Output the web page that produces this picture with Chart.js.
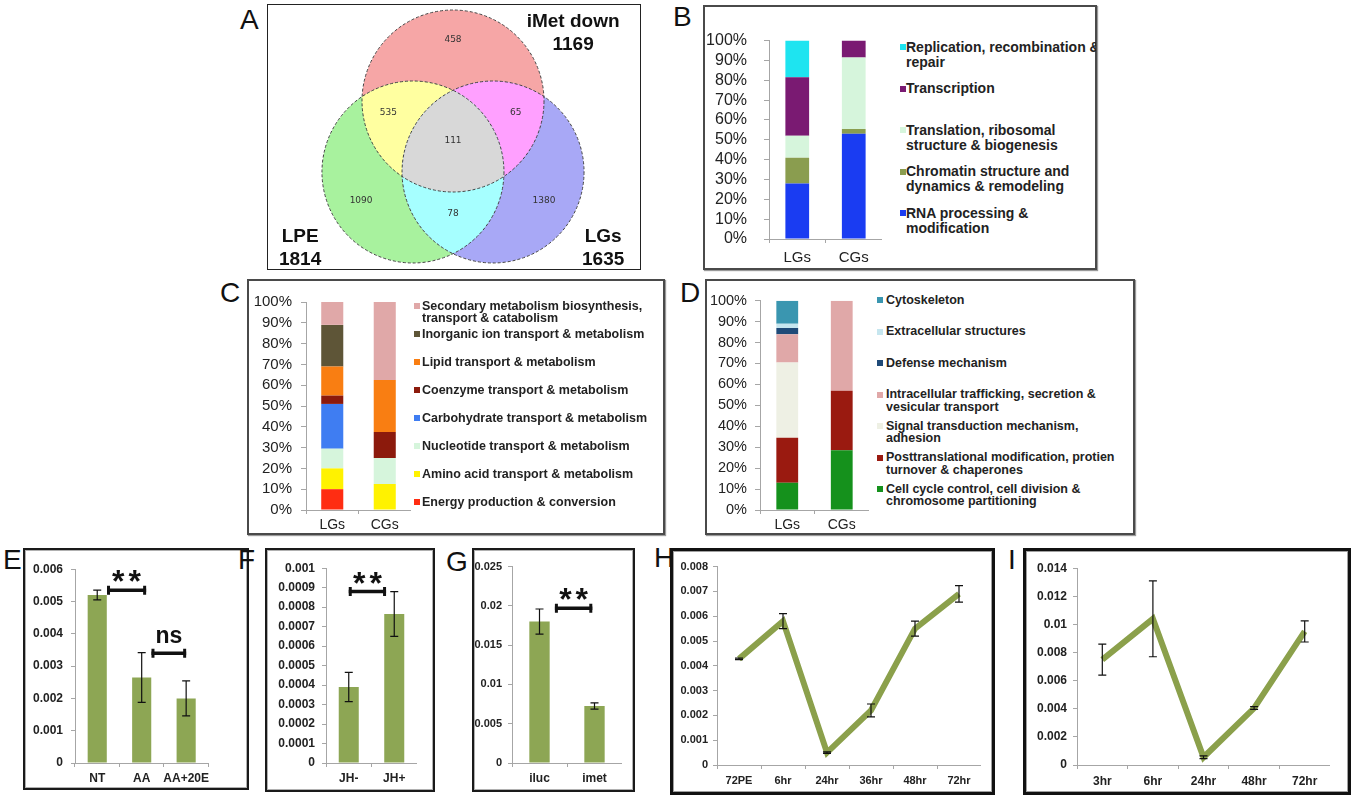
<!DOCTYPE html>
<html><head><meta charset="utf-8">
<script src="https://cdn.jsdelivr.net/npm/chart.js@4.4.0/dist/chart.umd.min.js"></script>
<style>
html,body{margin:0;padding:0;background:#fff}
body{width:1353px;height:800px;position:relative;overflow:hidden;font-family:Arial,"Liberation Sans",sans-serif}
.box{position:absolute;box-sizing:border-box}
.lbl{position:absolute;font:28px "Liberation Sans",Arial,sans-serif;line-height:1;color:#111}
canvas{position:absolute}
.leg{position:absolute;overflow:hidden}
.leg div{position:absolute;white-space:pre;font-weight:bold;color:#222}
.leg i{position:absolute;width:6px;height:6px}
</style></head>
<body>
<script>
/* === Figure panels A–I === */

// ── Data ──
const vennSets = ['iMet down', 'LPE', 'LGs'];
const vennTotals = [1169, 1814, 1635];
// iMet only, iMet∩LPE, iMet∩LGs, all three, LPE only, LGs only, LPE∩LGs
const vennCounts = [458, 535, 65, 111, 1090, 1380, 78];

const groupCats = ['LGs', 'CGs'];
const pctTicks = ['0%', '10%', '20%', '30%', '40%', '50%', '60%', '70%', '80%', '90%', '100%'];

// stacks listed bottom → top
const bNames = ['RNA processing &\nmodification', 'Chromatin structure and\ndynamics & remodeling',
    'Translation, ribosomal\nstructure & biogenesis', 'Transcription', 'Replication, recombination &\nrepair'];
const bLGs = [28, 13, 11, 29.5, 18.5];
const bCGs = [53, 2.5, 36, 8.5, 0];

const cNames = ['Energy production & conversion', 'Amino acid transport & metabolism', 'Nucleotide transport & metabolism',
    'Carbohydrate transport & metabolism', 'Coenzyme transport & metabolism', 'Lipid transport & metabolism',
    'Inorganic ion transport & metabolism', 'Secondary metabolism biosynthesis,\ntransport & catabolism'];
const cLGs = [10, 10, 9.5, 21.5, 4, 14, 20, 11];
const cCGs = [0, 12.5, 12.5, 0, 12.5, 25, 0, 37.5];

const dNames = ['Cell cycle control, cell division &\nchromosome partitioning', 'Posttranslational modification, protien\nturnover & chaperones',
    'Signal transduction mechanism,\nadhesion', 'Intracellular trafficking, secretion &\nvesicular transport',
    'Defense mechanism', 'Extracellular structures', 'Cytoskeleton'];
const dLGs = [13, 21.5, 36, 13.5, 3, 2, 11];
const dCGs = [28.5, 28.5, 0, 43, 0, 0, 0];

const eCats = ['NT', 'AA', 'AA+20E'];
const eVals = [0.0052, 0.00265, 0.002];
const eErr = [0.00015, 0.00077, 0.00054];
const eTicks = ['0', '0.001', '0.002', '0.003', '0.004', '0.005', '0.006'];
const eSig = [{ from: 0.22, to: 1.1, level: 0.00535, text: '**' }, { from: 1.22, to: 2.0, level: 0.0034, text: 'ns' }];

const fCats = ['JH-', 'JH+'];
const fVals = [0.00039, 0.000765];
const fErr = [0.000075, 0.000115];
const fTicks = ['0', '0.0001', '0.0002', '0.0003', '0.0004', '0.0005', '0.0006', '0.0007', '0.0008', '0.0009', '0.001'];
const fSig = [{ from: 0, to: 0.82, level: 0.00088, text: '**' }];

const gCats = ['iluc', 'imet'];
const gVals = [0.018, 0.00725];
const gErr = [0.0016, 0.0004];
const gTicks = ['0', '0.005', '0.01', '0.015', '0.02', '0.025'];
const gSig = [{ from: 0.28, to: 0.96, level: 0.0197, text: '**' }];

const hCats = ['72PE', '6hr', '24hr', '36hr', '48hr', '72hr'];
const hVals = [0.00428, 0.0058, 0.0005, 0.0022, 0.0055, 0.0069];
const hErr = [0.00003, 0.0003, 0.00003, 0.00026, 0.0003, 0.00033];
const hTicks = ['0', '0.001', '0.002', '0.003', '0.004', '0.005', '0.006', '0.007', '0.008'];

const iCats = ['3hr', '6hr', '24hr', '48hr', '72hr'];
const iVals = [0.0075, 0.0104, 0.00055, 0.00405, 0.0095];
const iErr = [0.0011, 0.0027, 0.0001, 0.0001, 0.00075];
const iTicks = ['0', '0.002', '0.004', '0.006', '0.008', '0.01', '0.012', '0.014'];

// ── Styles ──
const AXIS = '#a6a6a6';
const GREEN_BAR = '#8da654';
const GREEN_LINE = '#8ba04b';
const bColors = ['#1a3cf2', '#8a9d4f', '#d6f5dc', '#7a1a72', '#1ee4f0'];
const cColors = ['#ff2d12', '#fff200', '#d6f5dc', '#3f7df2', '#8c1a0c', '#f97e12', '#5e5537', '#e0a8a8'];
const dColors = ['#15911c', '#9a1a10', '#eef0e4', '#e0a8a8', '#1f4a78', '#c6e6ef', '#3a96b0'];
const vennFills = ['#f6a6a6', '#a8f29e', '#a8a8f6', '#ffffa0', '#ffa0ff', '#a6ffff', '#d8d8d8'];
const VENN = { cx: [0, -0.44, 0.44], cy: [0.78, 0, 0], r: 1,
    countPos: [[0, 1.45], [-0.71, 0.65], [0.69, 0.65], [0, 0.34], [-1.01, -0.31], [1.0, -0.31], [0, -0.46]],
    titlePos: [[1.32, 1.65], [-1.68, -0.71], [1.65, -0.71]] };

Chart.defaults.animation = false;
Chart.defaults.font.family = 'Arial, "Liberation Sans", sans-serif';
Chart.defaults.plugins.legend.display = false;
Chart.defaults.plugins.tooltip.enabled = false;

// ── Plugins ──
const errBars = {
    id: 'errbars',
    afterDatasetsDraw(chart, args, o) {
        if (!o.err) return;
        const { ctx } = chart, y = chart.scales.y;
        const meta = chart.getDatasetMeta(0), vals = chart.data.datasets[0].data;
        ctx.save(); ctx.strokeStyle = '#111'; ctx.lineWidth = 1.2;
        o.err.forEach((e, i) => {
            const px = meta.data[i].x, t = y.getPixelForValue(vals[i] + e), b = y.getPixelForValue(vals[i] - e);
            ctx.beginPath();
            ctx.moveTo(px, t); ctx.lineTo(px, b);
            ctx.moveTo(px - o.cap, t); ctx.lineTo(px + o.cap, t);
            ctx.moveTo(px - o.cap, b); ctx.lineTo(px + o.cap, b);
            ctx.stroke();
        });
        ctx.restore();
    }
};

const sigMarks = {
    id: 'sig',
    afterDraw(chart, args, o) {
        if (!o.marks) return;
        const { ctx, scales: { x, y } } = chart;
        ctx.save();
        for (const m of o.marks) {
            const x1 = x.getPixelForValue(m.from), x2 = x.getPixelForValue(m.to), py = y.getPixelForValue(m.level);
            ctx.strokeStyle = '#111'; ctx.lineWidth = 3.5; ctx.lineCap = 'butt';
            ctx.beginPath(); ctx.moveTo(x1, py); ctx.lineTo(x2, py); ctx.stroke();
            ctx.lineWidth = 3;
            ctx.beginPath(); ctx.moveTo(x1 + 1.5, py - 4.5); ctx.lineTo(x1 + 1.5, py + 4.5);
            ctx.moveTo(x2 - 1.5, py - 4.5); ctx.lineTo(x2 - 1.5, py + 4.5); ctx.stroke();
            ctx.fillStyle = '#111'; ctx.textAlign = 'center'; ctx.textBaseline = 'alphabetic';
            if (m.text === 'ns') { ctx.font = 'bold 23px Arial, "Liberation Sans"'; ctx.fillText(m.text, (x1 + x2) / 2, py - 10); }
            else { ctx.font = 'bold 32px Arial, "Liberation Sans"'; ctx.letterSpacing = '4px'; ctx.fillText(m.text, (x1 + x2) / 2 + 2, py + 2); ctx.letterSpacing = '0px'; }
        }
        ctx.restore();
    }
};

const venn = {
    id: 'venn',
    afterDatasetsDraw(chart, args, o) {
        if (!o.fills) return;
        const { ctx, scales: { x, y } } = chart;
        const pts = chart.getDatasetMeta(0).data;
        const r = x.getPixelForValue(o.radius) - x.getPixelForValue(0);
        const circ = i => { ctx.beginPath(); ctx.arc(pts[i].x, pts[i].y, r, 0, Math.PI * 2); };
        const overlap = (a, b, c) => { ctx.save(); circ(a); ctx.clip(); circ(b); ctx.fillStyle = c; ctx.fill(); ctx.restore(); };
        ctx.save();
        [0, 1, 2].forEach(i => { circ(i); ctx.fillStyle = o.fills[i]; ctx.fill(); });
        overlap(0, 1, o.fills[3]); overlap(0, 2, o.fills[4]); overlap(1, 2, o.fills[5]);
        ctx.save(); circ(0); ctx.clip(); circ(1); ctx.clip(); circ(2); ctx.fillStyle = o.fills[6]; ctx.fill(); ctx.restore();
        ctx.setLineDash([3, 2]); ctx.strokeStyle = '#444'; ctx.lineWidth = 1;
        [0, 1, 2].forEach(i => { circ(i); ctx.stroke(); });
        ctx.setLineDash([]);
        ctx.fillStyle = '#333'; ctx.textAlign = 'center'; ctx.textBaseline = 'middle';
        ctx.font = '9px "DejaVu Sans", Verdana, sans-serif';
        o.counts.forEach((c, i) => ctx.fillText(String(c), x.getPixelForValue(o.countPos[i][0]), y.getPixelForValue(o.countPos[i][1])));
        ctx.fillStyle = '#111'; ctx.font = 'bold 19px Arial, "Liberation Sans"';
        o.sets.forEach((s, i) => {
            const px = x.getPixelForValue(o.titlePos[i][0]), py = y.getPixelForValue(o.titlePos[i][1]);
            ctx.fillText(s, px, py);
            ctx.fillText(String(o.totals[i]), px, py + 23);
        });
        ctx.restore();
    }
};
Chart.register(errBars, sigMarks, venn);

// ── Helpers ──
function box(l, t, w, h, css) {
    const d = document.createElement('div'); d.className = 'box';
    Object.assign(d.style, { left: l + 'px', top: t + 'px', width: w + 'px', height: h + 'px' }, css);
    document.body.appendChild(d);
}
function letter(ch, l, t) {
    const d = document.createElement('div'); d.className = 'lbl'; d.textContent = ch;
    d.style.left = l + 'px'; d.style.top = t + 'px'; document.body.appendChild(d);
}
function mk(l, t, w, h) {
    const c = document.createElement('canvas'); c.width = w; c.height = h;
    c.style.left = l + 'px'; c.style.top = t + 'px'; document.body.appendChild(c); return c;
}
function legend(l, t, w, h, names, colors, o) {
    const wrap = document.createElement('div'); wrap.className = 'leg';
    Object.assign(wrap.style, { left: l + 'px', top: t + 'px', width: w + 'px', height: h + 'px' });
    names.slice().reverse().forEach((n, k) => {
        const i = names.length - 1 - k;
        const it = document.createElement('div');
        Object.assign(it.style, { left: o.text + 'px', top: (o.first + k * o.gap - o.lh / 2) + 'px', fontSize: o.size + 'px', lineHeight: o.lh + 'px' });
        it.textContent = n;
        const m = document.createElement('i');
        Object.assign(m.style, { left: (o.mark - o.text) + 'px', top: (o.lh / 2 - 3) + 'px', background: colors[i] });
        it.appendChild(m); wrap.appendChild(it);
    });
    document.body.appendChild(wrap);
}
function yAxis(max, step, labels, size, bold, pad, w, extra) {
    return Object.assign({
        min: 0, max,
        ticks: { stepSize: step, autoSkip: false, callback: (v, i) => labels[i], font: { size, weight: bold ? 'bold' : 'normal' }, color: '#222', padding: pad },
        grid: { drawOnChartArea: false, tickLength: 4, color: AXIS }, border: { color: AXIS },
        afterFit: s => { s.width = w; }
    }, extra || {});
}
function xAxis(size, bold, pad, h, extra) {
    return Object.assign({
        offset: true,
        ticks: { font: { size, weight: bold ? 'bold' : 'normal' }, color: '#222', padding: pad, autoSkip: false, maxRotation: 0 },
        grid: { offset: true, drawOnChartArea: false, tickLength: 4, color: AXIS }, border: { color: AXIS },
        afterFit: s => { s.height = h; }
    }, extra || {});
}
function stackChart(rect, names, lgs, cgs, colors, bp, y, x) {
    new Chart(mk(...rect), {
        type: 'bar',
        data: { labels: groupCats, datasets: names.map((n, i) => ({ label: n, data: [lgs[i], cgs[i]], backgroundColor: colors[i], barPercentage: bp, categoryPercentage: 1 })) },
        options: { responsive: false, layout: { padding: { top: 10, right: 0, left: 0, bottom: 0 } }, scales: { x, y } }
    });
}
function barChart(rect, cats, vals, err, sig, bp, y, x) {
    new Chart(mk(...rect), {
        type: 'bar',
        data: { labels: cats, datasets: [{ data: vals, backgroundColor: GREEN_BAR, barPercentage: bp, categoryPercentage: 1 }] },
        options: { responsive: false, layout: { padding: { top: 10, right: 0, left: 0, bottom: 0 } }, scales: { x, y },
            plugins: { errbars: { err, cap: 4 }, sig: { marks: sig } } }
    });
}
function lineChart(rect, cats, vals, err, y, x) {
    new Chart(mk(...rect), {
        type: 'line',
        data: { labels: cats, datasets: [{ data: vals, borderColor: GREEN_LINE, borderWidth: 6, pointRadius: 0, tension: 0, fill: false, borderJoinStyle: 'miter' }] },
        options: { responsive: false, layout: { padding: { top: 10, right: 0, left: 0, bottom: 0 } }, scales: { x, y },
            plugins: { errbars: { err, cap: 4 } } }
    });
}

// ── Frames and panel letters ──
box(267, 4, 374, 266, { border: '1.5px solid #222' });
const grayFrame = { border: '2px solid #4a4a4a', boxShadow: '1px 1px 1px #9a9a9a' };
box(703, 5, 394, 265, grayFrame);
box(247, 279, 418, 256, grayFrame);
box(705, 279, 430, 256, grayFrame);
const darkFrame = { border: '2px solid #1a1a1a', boxShadow: 'inset 0 0 0 1px #b0b0b0' };
box(23, 548, 226, 242, darkFrame);
box(265, 548, 170, 244, darkFrame);
box(472, 548, 163, 244, darkFrame);
const heavyFrame = { border: '3px solid #111', boxShadow: 'inset 0 0 0 1px #a0a0a0' };
box(670, 548, 325, 247, heavyFrame);
box(1023, 548, 328, 247, heavyFrame);

[['A', 240, 6], ['B', 673, 3], ['C', 220, 279], ['D', 680, 279], ['E', 3, 546], ['F', 238, 546],
 ['G', 446, 548], ['H', 654, 544], ['I', 1008, 546]].forEach(a => letter(...a));

// ── A: Venn ──
new Chart(mk(268, 5, 372, 264), {
    type: 'scatter',
    data: { datasets: [{ data: vennSets.map((s, i) => ({ x: VENN.cx[i], y: VENN.cy[i] })), pointRadius: 0 }] },
    options: { responsive: false, layout: { padding: 0 },
        scales: { x: { display: false, min: -2.033, max: 2.055 }, y: { display: false, min: -1.066, max: 1.835 } },
        plugins: { venn: { fills: vennFills, radius: VENN.r, counts: vennCounts, countPos: VENN.countPos, sets: vennSets, totals: vennTotals, titlePos: VENN.titlePos } } }
});

// ── B, C, D: stacked 100% bars ──
stackChart([705, 14, 177, 253], bNames, bLGs, bCGs, bColors, 0.42,
    yAxis(100, 10, pctTicks, 16, false, 17, 64, { stacked: true, grid: { drawOnChartArea: false, tickLength: 5, color: AXIS } }),
    xAxis(15, false, 6, 28, { stacked: true }));
legend(899, 0, 197, 268, bNames, bColors, { mark: 1, text: 7, first: 47, gap: 41.5, lh: 15, size: 14 });

stackChart([250, 284, 161, 250], cNames, cLGs, cCGs, cColors, 0.42,
    yAxis(100, 10, pctTicks, 15, false, 9, 56, { stacked: true, grid: { drawOnChartArea: false, tickLength: 5, color: AXIS } }),
    xAxis(14, false, 3, 24, { stacked: true }));
legend(410, 281, 253, 252, cNames, cColors, { mark: 4, text: 12, first: 25, gap: 28, lh: 12, size: 12.5 });

stackChart([708, 284, 161, 250], dNames, dLGs, dCGs, dColors, 0.4,
    yAxis(100, 10, pctTicks, 14.5, false, 8, 52, { stacked: true, grid: { drawOnChartArea: false, tickLength: 5, color: AXIS } }),
    xAxis(14, false, 3, 24, { stacked: true }));
legend(873, 281, 260, 252, dNames, dColors, { mark: 4, text: 13, first: 19, gap: 31.5, lh: 12.5, size: 12.5 });

// ── E, F, G: bars with error bars ──
barChart([26, 554, 187, 233], eCats, eVals, eErr, eSig, 0.43,
    yAxis(0.006, 0.001, eTicks, 12, true, 8, 49), xAxis(12, true, 4, 24));
barChart([268, 554, 149, 233], fCats, fVals, fErr, fSig, 0.44,
    yAxis(0.001, 0.0001, fTicks, 12, true, 7, 58), xAxis(12, true, 4, 24));
barChart([474, 554, 148, 233], gCats, gVals, gErr, gSig, 0.37,
    yAxis(0.025, 0.005, gTicks, 11, true, 6, 38), xAxis(12, true, 4, 24));

// ── H, I: time courses ──
lineChart([676, 555, 305, 235], hCats, hVals, hErr,
    yAxis(0.008, 0.001, hTicks, 11, true, 5, 41), xAxis(11, true, 5, 25));
lineChart([1027, 555, 303, 235], iCats, iVals, iErr,
    yAxis(0.014, 0.002, iTicks, 12, true, 6, 50), xAxis(12, true, 5, 25));
</script>
</body></html>
